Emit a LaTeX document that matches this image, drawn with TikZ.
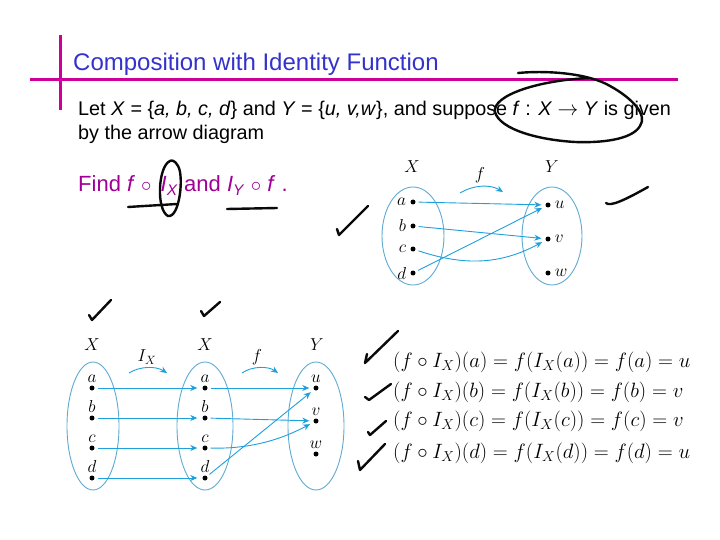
\documentclass[tikz,border=0pt]{standalone}
\usepackage{fontspec}
\setmainfont{Liberation Sans}
\usepackage{tikz}
\usetikzlibrary{shapes.geometric, arrows.meta, positioning}
\definecolor{titleblue}{RGB}{51, 51, 204}
\definecolor{barmagenta}{RGB}{204, 0, 153}
\definecolor{findpurple}{RGB}{160, 0, 150}
\definecolor{setblue}{RGB}{95, 170, 210}
\definecolor{mapblue}{RGB}{30, 160, 220}
\definecolor{inkblack}{RGB}{10, 10, 10}
\tikzset{
  setoval/.style={ellipse, draw=setblue, line width=0.9pt},
  elem/.style={circle, fill=black, inner sep=0pt, minimum size=5pt},
  setlabel/.style={font=\fontsize{17}{17}\selectfont},
  maparrow/.style={-{Stealth[length=7pt, width=6pt]}, mapblue, line width=0.9pt, shorten >=4pt, shorten <=3pt},
  ink/.style={inkblack, line width=2.4pt, line cap=round, line join=round}
}

\begin{document}
\begin{tikzpicture}[x=1pt, y=-1pt, every node/.style={inner sep=0pt}]

\useasboundingbox[fill=white] (0,0) rectangle (720,540);

% Title bars
\draw[barmagenta, line width=3pt] (60,35) -- (60,110);
\draw[barmagenta, line width=3pt] (30,80) -- (678,80);
\node[anchor=base west, text=titleblue, font=\fontsize{24}{28}\selectfont] (title) at (73,71) {Composition with Identity Function};

% Statement
\node[anchor=base west, font=\fontsize{19.8}{24}\selectfont] (intro) at (78,116)
  {Let \textit{X} = \{\textit{a, b, c, d}\} and \textit{Y} = \{\textit{u, v,w}\}, and suppose \textit{f} : \textit{X} $\rightarrow$ \textit{Y} is given};
\node[anchor=base west, font=\fontsize{19.8}{24}\selectfont] (intro2) at (78,140) {by the arrow diagram};
\node[anchor=base west, text=findpurple, font=\fontsize{22}{26}\selectfont] (task) at (78,192)
  {Find \textit{f} $\circ$\hspace{3pt} \textit{I}\textsubscript{\textit{X}} and \textit{I}\textsubscript{\textit{Y}} $\circ$ \textit{f} .};

% Arrow diagram of f
\node[setoval, minimum width=62pt, minimum height=98pt] (topX) at (413,236) {};
\node[setoval, minimum width=60pt, minimum height=98pt] (topY) at (552,236) {};
\node[setlabel] (topXlab) at (412,167) {$X$};
\node[setlabel] (topYlab) at (552,167) {$Y$};
\node[setlabel] (topflab) at (480,175) {$f$};
\foreach \e/\y in {a/202, b/226, c/249, d/273}
  \node[elem, label={[setlabel, label distance=4pt]left:$\e$}] (t\e) at (413,\y) {};
\foreach \e/\y in {u/205, v/239, w/273}
  \node[elem, label={[setlabel, label distance=4pt]right:$\e$}] (t\e) at (548,\y) {};
\coordinate (tfs) at (460,193);
\coordinate (tfe) at (503,192);
\draw[maparrow, shorten >=0pt, shorten <=0pt] (tfs) .. controls (473,185) and (490,184) .. (tfe);
\draw[maparrow] (ta) -- (tu);
\draw[maparrow] (tb) -- (tv);
\draw[maparrow] (tc) .. controls (470,268) and (505,262) .. (tv);
\draw[maparrow] (td) -- (tu);

% Arrow diagram of f o I_X
\node[setoval, minimum width=52pt, minimum height=128pt] (botX) at (93,426) {};
\node[setoval, minimum width=56pt, minimum height=128pt] (midX) at (205,426) {};
\node[setoval, minimum width=56pt, minimum height=128pt] (botY) at (316,426) {};
\node[setlabel] (botXlab) at (92,345) {$X$};
\node[setlabel] (midXlab) at (205,345) {$X$};
\node[setlabel] (botYlab) at (317,345) {$Y$};
\node[setlabel] (idlab) at (147,357) {$I_X$};
\node[setlabel] (flab) at (257,357) {$f$};
\foreach \e/\y in {a/388, b/418, c/448, d/478} {
  \node[elem, label={[setlabel, label distance=3pt]above:$\e$}] (l\e) at (92,\y) {};
  \node[elem, label={[setlabel, label distance=3pt]above:$\e$}] (m\e) at (205,\y) {};
  \draw[maparrow, shorten >=5pt] (l\e) -- (m\e);
}
\foreach \e/\y in {u/388, v/421, w/454}
  \node[elem, label={[setlabel, label distance=3pt]above:$\e$}] (r\e) at (316,\y) {};
\coordinate (ids) at (129,373);
\coordinate (ide) at (167,373);
\coordinate (fs) at (242,373);
\coordinate (fe) at (278,373);
\draw[maparrow, shorten >=0pt, shorten <=0pt] (ids) .. controls (140,366) and (156,366) .. (ide);
\draw[maparrow, shorten >=0pt, shorten <=0pt] (fs) .. controls (252,366) and (268,366) .. (fe);
\draw[maparrow] (ma) -- (ru);
\draw[maparrow] (mb) -- (rv);
\draw[maparrow] (mc) .. controls (250,449) and (280,440) .. (rv);
\draw[maparrow] (md) -- (ru);

% Worked values
\foreach \e/\r/\y in {a/u/362, b/v/392, c/v/421, d/u/453}
  \node[anchor=west, font=\fontsize{19.3}{23}\selectfont] (eq\e) at (393,\y)
    {$(f\circ I_X)(\e) = f(I_X(\e)) = f(\e) = \r$};

% Hand marks
\draw[ink] (518,73) .. controls (550,70) and (590,74) .. (610,86)
  .. controls (632,98) and (648,115) .. (640,126)
  .. controls (632,140) and (600,143) .. (575,142)
  .. controls (540,140) and (500,130) .. (495,112)
  .. controls (492,95) and (540,80) .. (590,78);
\draw[ink] (170,161) .. controls (158,166) and (156,210) .. (168,216)
  .. controls (180,218) and (184,175) .. (178,166) .. controls (175,160) and (171,160) .. (170,161);
\draw[ink] (128,207) -- (177,204);
\draw[ink] (227,209) -- (277,208);
\draw[ink] (337,229) -- (339,235) -- (368,206);
\draw[ink] (606,203) .. controls (610,207) and (625,200) .. (648,187);
\draw[ink] (89,315) -- (92,320) -- (111,300);
\draw[ink] (201,311) -- (204,316) -- (220,302);
\draw[ink] (367,354) -- (365,363) -- (398,331);
\draw[ink] (365,397) -- (369,400) -- (391,384);
\draw[ink] (368,432) -- (370,435) -- (386,421);
\draw[ink] (358,461) -- (360,470) -- (385,444);

\end{tikzpicture}
\end{document}
